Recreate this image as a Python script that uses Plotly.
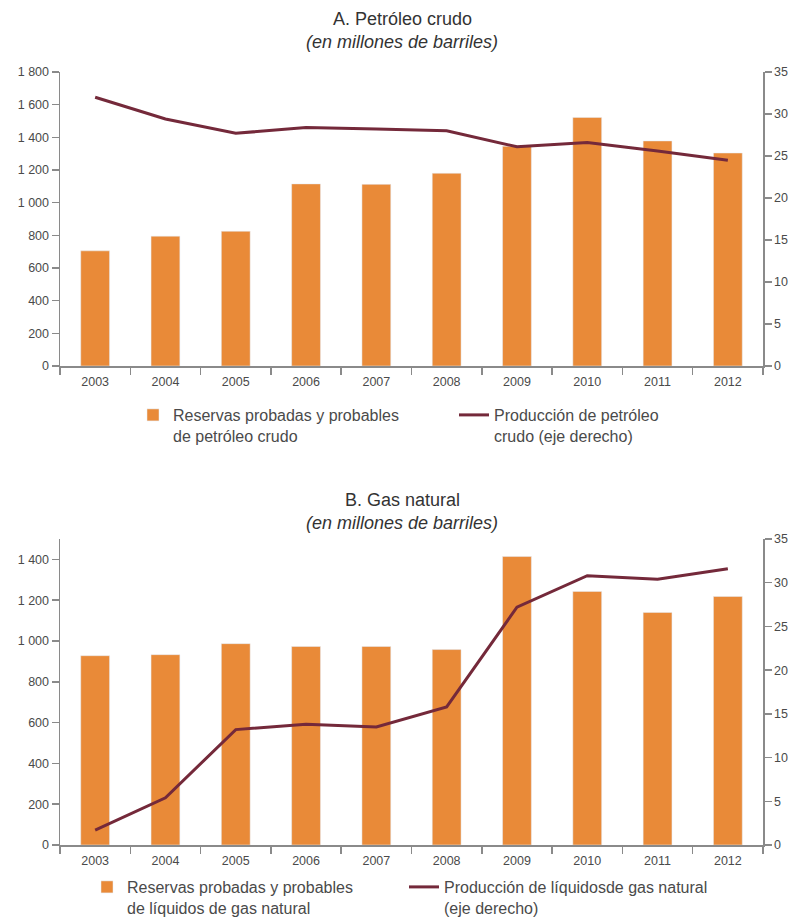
import plotly.graph_objects as go

years = ["2003", "2004", "2005", "2006", "2007", "2008", "2009", "2010", "2011", "2012"]

# A. Petróleo crudo
reservas_crudo = [705, 795, 825, 1115, 1112, 1180, 1345, 1522, 1378, 1304]
produccion_crudo = [32.0, 29.4, 27.7, 28.4, 28.2, 28.0, 26.1, 26.6, 25.6, 24.5]

# B. Gas natural
reservas_gas = [928, 933, 987, 973, 973, 958, 1414, 1243, 1140, 1218]
produccion_gas = [1.7, 5.4, 13.2, 13.8, 13.5, 15.8, 27.2, 30.8, 30.4, 31.6]

left_ticks_a = [0, 200, 400, 600, 800, 1000, 1200, 1400, 1600, 1800]
left_labels_a = ["0", "200", "400", "600", "800", "1 000", "1 200", "1 400", "1 600", "1 800"]
left_ticks_b = [0, 200, 400, 600, 800, 1000, 1200, 1400]
left_labels_b = ["0", "200", "400", "600", "800", "1 000", "1 200", "1 400"]
right_ticks = [0, 5, 10, 15, 20, 25, 30, 35]

BAR = "#E98A38"
LINE = "#74293A"
AXIS = "#8A8A8A"
TXT = "#4a4a4a"
FONT = "Liberation Sans, Arial, sans-serif"

W, H = 795, 917


def px_x(x):
    return x / W


def px_y(y):
    return (H - y) / H


fig = go.Figure()

fig.add_trace(go.Bar(x=years, y=reservas_crudo, marker_color=BAR, xaxis="x", yaxis="y",
                     name="Reservas probadas y probables<br>de petróleo crudo", legend="legend"))
fig.add_trace(go.Scatter(x=years, y=produccion_crudo, mode="lines", line=dict(color=LINE, width=3),
                         xaxis="x", yaxis="y2",
                         name="Producción de petróleo<br>crudo (eje derecho)", legend="legend2"))
fig.add_trace(go.Bar(x=years, y=reservas_gas, marker_color=BAR, xaxis="x2", yaxis="y3",
                     name="Reservas probadas y probables<br>de líquidos de gas natural", legend="legend3"))
fig.add_trace(go.Scatter(x=years, y=produccion_gas, mode="lines", line=dict(color=LINE, width=3),
                         xaxis="x2", yaxis="y4",
                         name="Producción de líquidosde gas natural<br>(eje derecho)", legend="legend4"))

xdom = [px_x(60), px_x(763)]
common_axis = dict(showline=True, linecolor=AXIS, linewidth=1.5, ticks="outside", ticklen=7,
                   tickcolor=AXIS, tickwidth=1.5, showgrid=False, zeroline=False, automargin=False,
                   tickfont=dict(family=FONT, size=12.5, color=TXT))

xa = dict(common_axis, type="category", tickson="boundaries", domain=xdom, ticklabelstandoff=3)

leg_common = dict(orientation="v", xanchor="left", yanchor="top", bgcolor="rgba(0,0,0,0)",
                  font=dict(family=FONT, size=16, color=TXT), valign="top",
                  tracegroupgap=0)

title_font = dict(family=FONT, size=18, color="#333333")


def title(text, y):
    return dict(text=text, x=px_x(402), y=px_y(y), xref="paper", yref="paper",
                xanchor="center", yanchor="middle", showarrow=False, font=title_font)


fig.update_layout(
    width=W, height=H,
    margin=dict(l=0, r=0, t=0, b=0, autoexpand=False),
    paper_bgcolor="white", plot_bgcolor="white",
    bargap=0.59,
    font=dict(family=FONT, color=TXT),
    xaxis=dict(xa, anchor="y"),
    yaxis=dict(common_axis, domain=[px_y(366), px_y(72)], range=[0, 1800],
               tickvals=left_ticks_a, ticktext=left_labels_a, anchor="x"),
    yaxis2=dict(common_axis, overlaying="y", side="right", range=[0, 35], tickvals=right_ticks,
                anchor="x"),
    xaxis2=dict(xa, anchor="y3"),
    yaxis3=dict(common_axis, domain=[px_y(845), px_y(539)], range=[0, 1500],
                tickvals=left_ticks_b, ticktext=left_labels_b, anchor="x2"),
    yaxis4=dict(common_axis, overlaying="y3", side="right", range=[0, 35], tickvals=right_ticks,
                anchor="x2"),
    legend=dict(leg_common, x=px_x(133), y=px_y(398)),
    legend2=dict(leg_common, x=px_x(454), y=px_y(398)),
    legend3=dict(leg_common, x=px_x(87), y=px_y(870)),
    legend4=dict(leg_common, x=px_x(404), y=px_y(870)),
    showlegend=True,
    hovermode=False,
    annotations=[
        title("A. Petróleo crudo", 19),
        title("<i>(en millones de barriles)</i>", 42),
        title("B. Gas natural", 500),
        title("<i>(en millones de barriles)</i>", 523),
    ],
)

fig.write_html("out.html", config={"displayModeBar": False, "staticPlot": True},
               post_script="document.body.style.margin='0';")
